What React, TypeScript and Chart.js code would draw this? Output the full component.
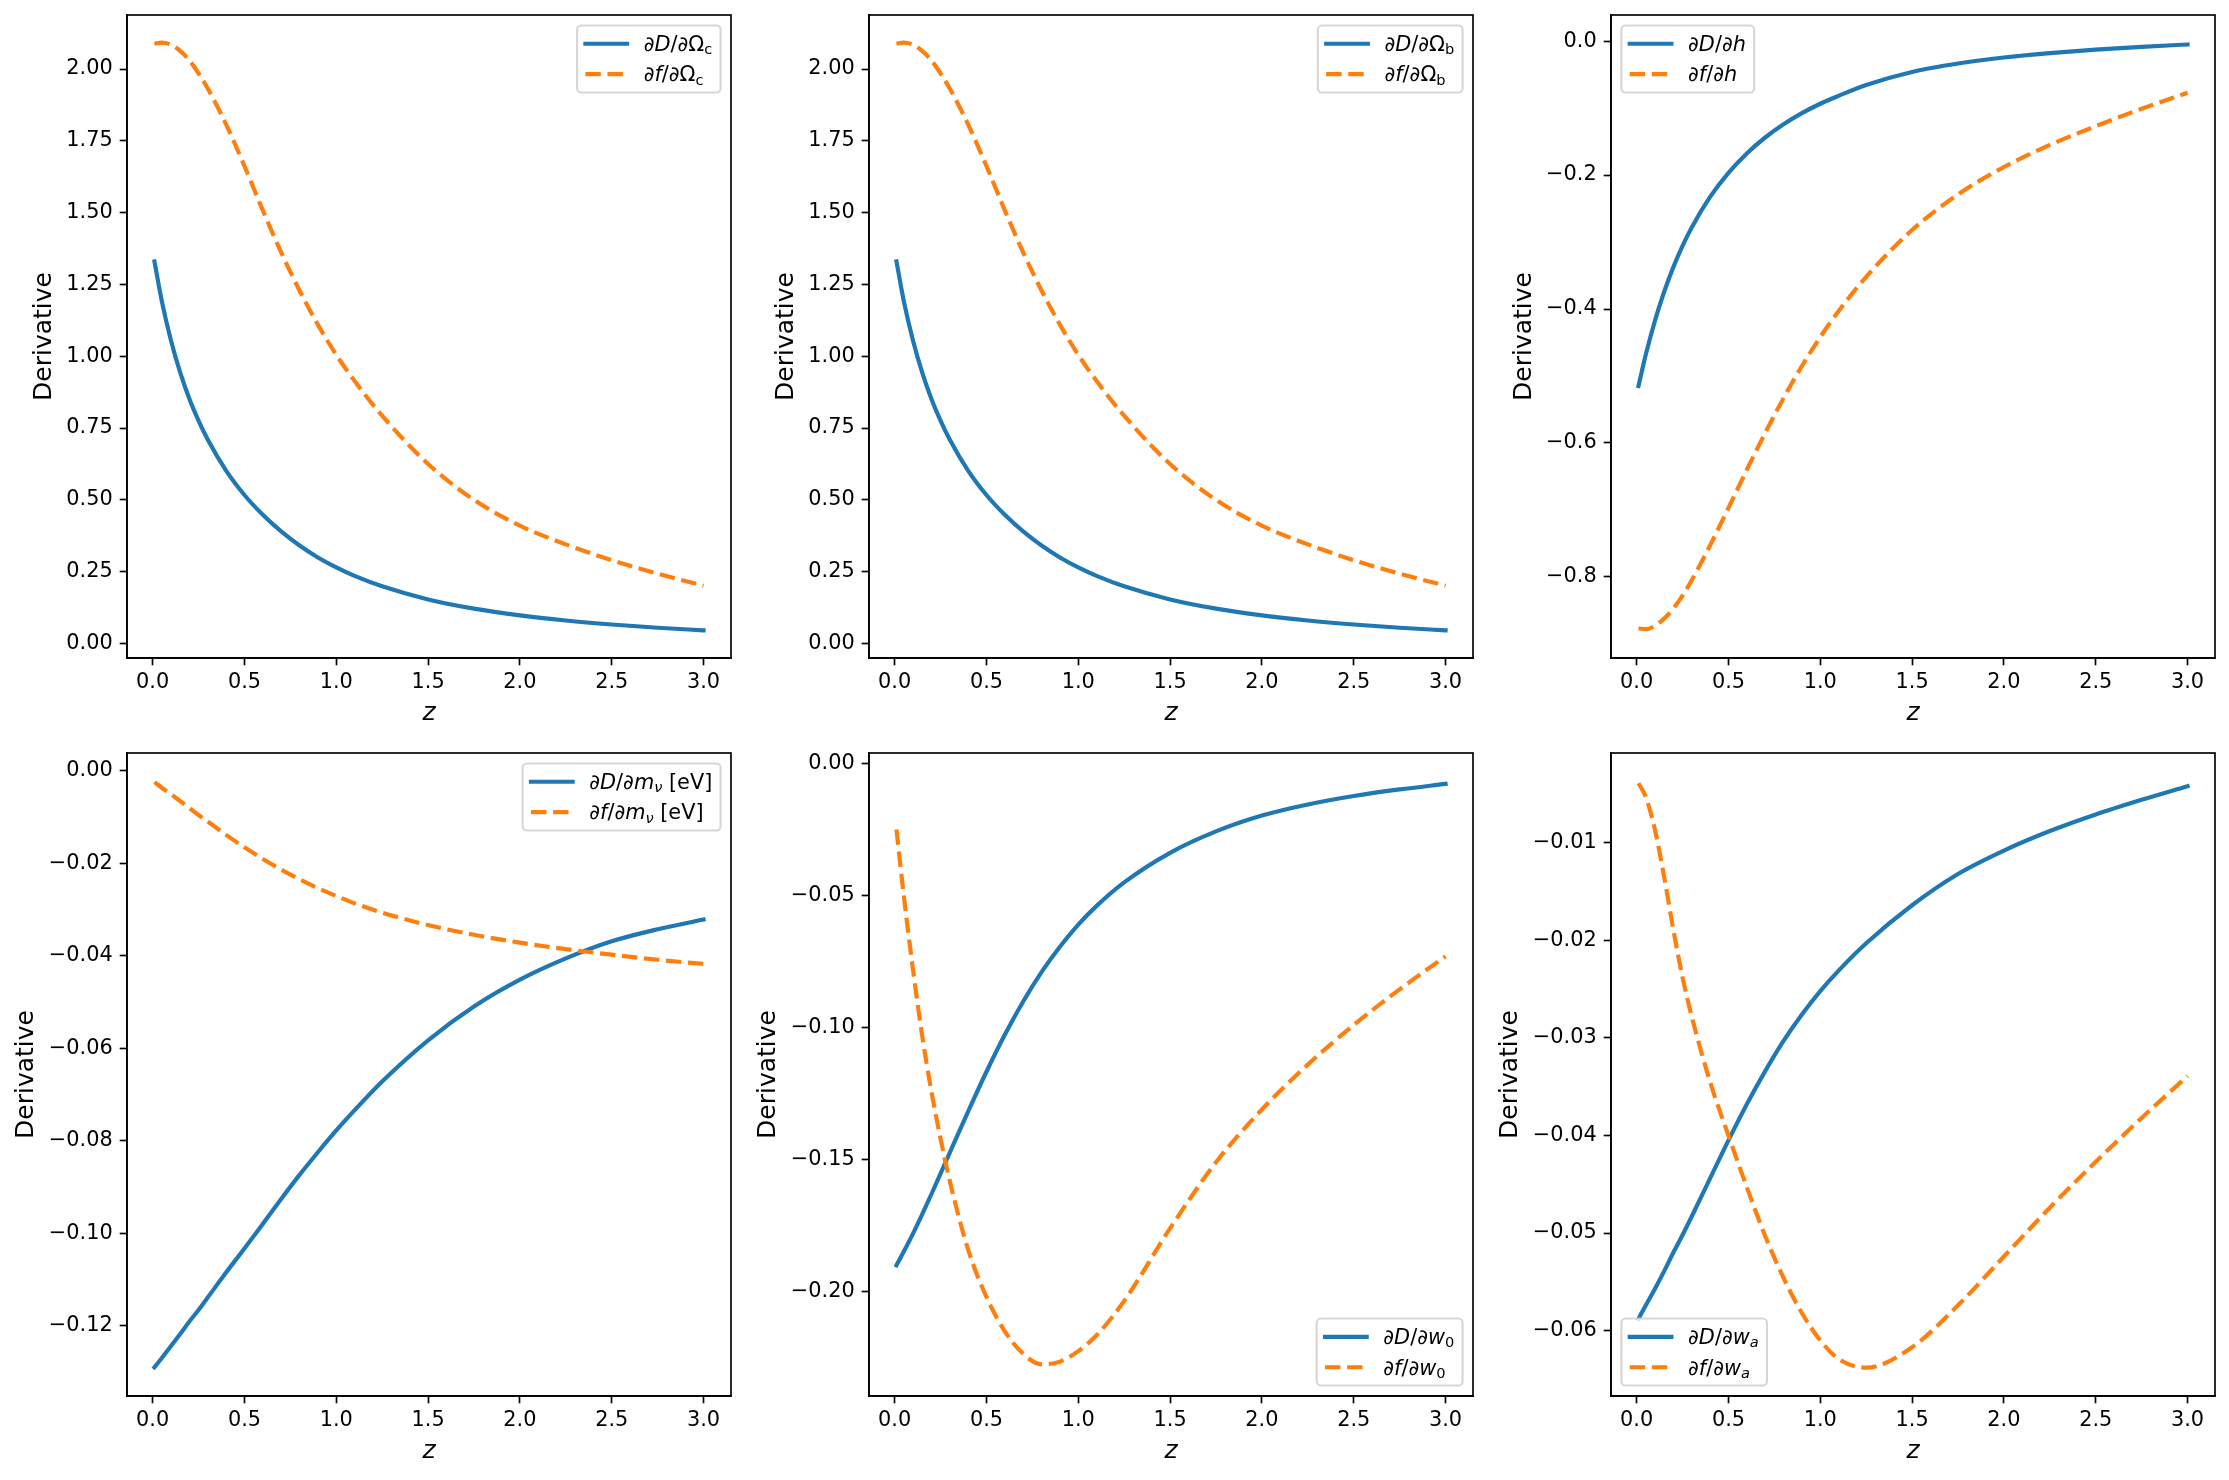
import React, { useEffect, useRef } from 'react';
import { Chart, registerables } from 'chart.js';

Chart.register(...registerables);

// ---- data -------------------------------------------------------------
const Z = [0.01, 0.05, 0.1, 0.15, 0.2, 0.25, 0.3, 0.4, 0.5, 0.6, 0.7, 0.8, 0.9, 1.0, 1.1, 1.25, 1.5, 1.75, 2.0, 2.25, 2.5, 2.75, 3.0];

const OMC_D = [1.33, 1.192, 1.055, 0.944, 0.852, 0.776, 0.71, 0.602, 0.517, 0.448, 0.39, 0.341, 0.2996, 0.265, 0.2355, 0.199, 0.1535, 0.1214, 0.0979, 0.08, 0.066, 0.0547, 0.0458];
const OMC_F = [2.088, 2.092, 2.0845, 2.063, 2.03, 1.985, 1.9325, 1.8075, 1.6625, 1.508, 1.3615, 1.229, 1.11, 1.005, 0.9135, 0.793, 0.625, 0.5, 0.41, 0.345, 0.29, 0.243, 0.201];

const OMB_D = [1.33, 1.192, 1.055, 0.944, 0.852, 0.776, 0.71, 0.602, 0.517, 0.448, 0.39, 0.341, 0.2996, 0.265, 0.2355, 0.199, 0.1535, 0.1214, 0.0979, 0.08, 0.066, 0.0547, 0.0458];
const OMB_F = [2.088, 2.092, 2.0845, 2.063, 2.03, 1.985, 1.9325, 1.8075, 1.6625, 1.508, 1.3615, 1.229, 1.11, 1.005, 0.9135, 0.793, 0.625, 0.5, 0.41, 0.345, 0.29, 0.243, 0.201];

const H_D = [-0.515, -0.468, -0.4172, -0.3742, -0.3374, -0.3056, -0.2781, -0.2326, -0.1966, -0.1676, -0.1439, -0.1241, -0.1075, -0.0935, -0.0817, -0.0655, -0.046, -0.0335, -0.0245, -0.018, -0.0128, -0.0085, -0.005];
const H_F = [-0.877, -0.878, -0.873, -0.862, -0.847, -0.828, -0.805, -0.753, -0.697, -0.64, -0.585, -0.533, -0.485, -0.442, -0.403, -0.352, -0.282, -0.229, -0.188, -0.155, -0.127, -0.101, -0.077];

const MNU_D = [-0.129, -0.127, -0.1244, -0.1218, -0.1191, -0.1166, -0.1139, -0.1085, -0.1033, -0.098, -0.0926, -0.0874, -0.0825, -0.0778, -0.0734, -0.0672, -0.0583, -0.051, -0.0452, -0.0406, -0.0369, -0.0343, -0.0322];
const MNU_F = [-0.0025, -0.0037, -0.0051, -0.0066, -0.0081, -0.0096, -0.011, -0.0139, -0.0166, -0.0191, -0.0214, -0.0235, -0.0254, -0.0271, -0.0287, -0.0307, -0.0334, -0.0355, -0.0372, -0.0386, -0.0398, -0.0409, -0.0418];

const W0_D = [-0.19, -0.1848, -0.178, -0.1707, -0.1631, -0.1553, -0.1474, -0.1318, -0.1167, -0.1027, -0.0901, -0.079, -0.0694, -0.061, -0.0539, -0.045, -0.0338, -0.0257, -0.0197, -0.0155, -0.0123, -0.0098, -0.0077];
const W0_F = [-0.025, -0.05, -0.078, -0.103, -0.124, -0.142, -0.158, -0.184, -0.202, -0.215, -0.2235, -0.2275, -0.2265, -0.2225, -0.2165, -0.2035, -0.176, -0.151, -0.131, -0.114, -0.099, -0.0855, -0.073];

const WA_D = [-0.0588, -0.0574, -0.0557, -0.0539, -0.052, -0.0502, -0.0483, -0.0444, -0.0405, -0.0368, -0.0334, -0.0303, -0.0276, -0.0252, -0.0231, -0.0203, -0.0164, -0.0132, -0.0108, -0.0088, -0.0071, -0.0056, -0.0042];
const WA_F = [-0.0039, -0.0053, -0.0087, -0.0135, -0.0189, -0.0238, -0.0278, -0.0345, -0.04, -0.0453, -0.0503, -0.0546, -0.0582, -0.061, -0.0629, -0.0638, -0.0617, -0.0574, -0.0524, -0.0474, -0.0427, -0.0382, -0.0339];

// ---- axes ticks & ranges ---------------------------------------------
const X_RANGE = [-0.1395, 3.1495];
const X_TICKS = [0, 0.5, 1, 1.5, 2, 2.5, 3];
const X_TICK_LABELS = ['0.0', '0.5', '1.0', '1.5', '2.0', '2.5', '3.0'];

const Y_TICKS_OM = [0, 0.25, 0.5, 0.75, 1.0, 1.25, 1.5, 1.75, 2.0];
const Y_LABELS_OM = ['0.00', '0.25', '0.50', '0.75', '1.00', '1.25', '1.50', '1.75', '2.00'];
const Y_RANGE_OM = [-0.0505, 2.188];

const Y_TICKS_H = [0, -0.2, -0.4, -0.6, -0.8];
const Y_LABELS_H = ['0.0', '\u22120.2', '\u22120.4', '\u22120.6', '\u22120.8'];
const Y_RANGE_H = [-0.921, 0.039];

const Y_TICKS_MNU = [0, -0.02, -0.04, -0.06, -0.08, -0.1, -0.12];
const Y_LABELS_MNU = ['0.00', '\u22120.02', '\u22120.04', '\u22120.06', '\u22120.08', '\u22120.10', '\u22120.12'];
const Y_RANGE_MNU = [-0.1352, 0.0038];

const Y_TICKS_W0 = [0, -0.05, -0.1, -0.15, -0.2];
const Y_LABELS_W0 = ['0.00', '\u22120.05', '\u22120.10', '\u22120.15', '\u22120.20'];
const Y_RANGE_W0 = [-0.2395, 0.004];

const Y_TICKS_WA = [-0.01, -0.02, -0.03, -0.04, -0.05, -0.06];
const Y_LABELS_WA = ['\u22120.01', '\u22120.02', '\u22120.03', '\u22120.04', '\u22120.05', '\u22120.06'];
const Y_RANGE_WA = [-0.0667, -0.0008];

// ---- legend labels (rich text segments) ------------------------------
type Seg = { t: string; it?: boolean; sub?: boolean };

const LEG_OMC: Seg[][] = [
  [{ t: '\u2202' }, { t: 'D', it: true }, { t: '/\u2202\u03A9' }, { t: 'c', sub: true }],
  [{ t: '\u2202' }, { t: 'f', it: true }, { t: '/\u2202\u03A9' }, { t: 'c', sub: true }],
];
const LEG_OMB: Seg[][] = [
  [{ t: '\u2202' }, { t: 'D', it: true }, { t: '/\u2202\u03A9' }, { t: 'b', sub: true }],
  [{ t: '\u2202' }, { t: 'f', it: true }, { t: '/\u2202\u03A9' }, { t: 'b', sub: true }],
];
const LEG_H: Seg[][] = [
  [{ t: '\u2202' }, { t: 'D', it: true }, { t: '/\u2202' }, { t: 'h', it: true }],
  [{ t: '\u2202' }, { t: 'f', it: true }, { t: '/\u2202' }, { t: 'h', it: true }],
];
const LEG_MNU: Seg[][] = [
  [{ t: '\u2202' }, { t: 'D', it: true }, { t: '/\u2202' }, { t: 'm', it: true }, { t: '\u03BD', it: true, sub: true }, { t: ' [eV]' }],
  [{ t: '\u2202' }, { t: 'f', it: true }, { t: '/\u2202' }, { t: 'm', it: true }, { t: '\u03BD', it: true, sub: true }, { t: ' [eV]' }],
];
const LEG_W0: Seg[][] = [
  [{ t: '\u2202' }, { t: 'D', it: true }, { t: '/\u2202' }, { t: 'w', it: true }, { t: '0', sub: true }],
  [{ t: '\u2202' }, { t: 'f', it: true }, { t: '/\u2202' }, { t: 'w', it: true }, { t: '0', sub: true }],
];
const LEG_WA: Seg[][] = [
  [{ t: '\u2202' }, { t: 'D', it: true }, { t: '/\u2202' }, { t: 'w', it: true }, { t: 'a', it: true, sub: true }],
  [{ t: '\u2202' }, { t: 'f', it: true }, { t: '/\u2202' }, { t: 'w', it: true }, { t: 'a', it: true, sub: true }],
];

// ---- style ------------------------------------------------------------
const BLUE = '#1f77b4';
const ORANGE = '#ff7f0e';
const FAMILY = "'DejaVu Sans', sans-serif";
const FS = 20.83; // tick & legend text
const LABEL_FS = 25; // axis titles
const LW = 4.17;
const DASH = [15.42, 6.67];
const SPINE_W = 1.67;

// grid geometry (plot areas)
const COL_LEFT = [127, 869, 1611];
const ROW_TOP = [15, 753];
const BOX_W = 604;
const BOX_H = 643;
const Y_AXIS_W = 120;
const X_AXIS_H = 80;
const PAD_TOP = 24;
const PAD_RIGHT = 16;

function segFont(s: Seg) {
  const size = s.sub ? FS * 0.7 : FS;
  return `${s.it ? 'italic ' : ''}${size}px ${FAMILY}`;
}

function measureSegs(ctx: CanvasRenderingContext2D, segs: Seg[]) {
  let w = 0;
  for (const s of segs) {
    ctx.font = segFont(s);
    w += ctx.measureText(s.t).width;
  }
  return w;
}

function drawSegs(ctx: CanvasRenderingContext2D, segs: Seg[], x: number, baseline: number) {
  ctx.fillStyle = '#000';
  ctx.textAlign = 'left';
  ctx.textBaseline = 'alphabetic';
  let cx = x;
  for (const s of segs) {
    ctx.font = segFont(s);
    ctx.fillText(s.t, cx, baseline + (s.sub ? FS * 0.16 : 0));
    cx += ctx.measureText(s.t).width;
  }
}

// frame on all four sides + boxed legend
const mplDecor = {
  id: 'mplDecor',
  afterDraw(chart: any, _args: any, opts: any) {
    const ctx: CanvasRenderingContext2D = chart.ctx;
    const a = chart.chartArea;
    ctx.save();
    ctx.strokeStyle = '#000';
    ctx.lineWidth = SPINE_W;
    ctx.setLineDash([]);
    ctx.strokeRect(a.left, a.top, a.right - a.left, a.bottom - a.top);

    const items: { segs: Seg[]; color: string; dash: number[] }[] = opts.items || [];
    const loc: string = opts.loc || 'ur';
    const pad = 0.4 * FS, hl = 2 * FS, htp = 0.8 * FS, ls = 0.5 * FS, bap = 0.5 * FS;
    const rowH = 20;
    let tw = 0;
    items.forEach((it) => { tw = Math.max(tw, measureSegs(ctx, it.segs)); });
    const w = pad + hl + htp + tw + pad;
    const h = 2 * pad + items.length * rowH + (items.length - 1) * ls;
    const x = loc[1] === 'r' ? a.right - bap - w : a.left + bap;
    const y = loc[0] === 'u' ? a.top + bap : a.bottom - bap - h;

    ctx.beginPath();
    (ctx as any).roundRect(x, y, w, h, 0.2 * FS);
    ctx.fillStyle = 'rgba(255,255,255,0.8)';
    ctx.fill();
    ctx.strokeStyle = 'rgba(204,204,204,0.8)';
    ctx.lineWidth = 2.08;
    ctx.stroke();

    items.forEach((it, k) => {
      const cy = y + pad + rowH / 2 + k * (rowH + ls);
      ctx.beginPath();
      ctx.setLineDash(it.dash);
      ctx.lineCap = it.dash.length ? 'butt' : 'square';
      ctx.lineWidth = LW;
      ctx.strokeStyle = it.color;
      ctx.moveTo(x + pad, cy);
      ctx.lineTo(x + pad + hl, cy);
      ctx.stroke();
      ctx.setLineDash([]);
      drawSegs(ctx, it.segs, x + pad + hl + htp, cy + 0.35 * FS);
    });
    ctx.restore();
  },
};

type PanelCfg = {
  d: number[];
  f: number[];
  dLabel: string;
  fLabel: string;
  legend: Seg[][];
  loc: string;
  yTicks: number[];
  yLabels: string[];
  yRange: number[];
  col: number;
  row: number;
  titleGap: number;
};

const PANELS: PanelCfg[] = [
  { d: OMC_D, f: OMC_F, dLabel: '\u2202D/\u2202\u03A9c', fLabel: '\u2202f/\u2202\u03A9c', legend: LEG_OMC, loc: 'ur', yTicks: Y_TICKS_OM, yLabels: Y_LABELS_OM, yRange: Y_RANGE_OM, col: 0, row: 0, titleGap: 83 },
  { d: OMB_D, f: OMB_F, dLabel: '\u2202D/\u2202\u03A9b', fLabel: '\u2202f/\u2202\u03A9b', legend: LEG_OMB, loc: 'ur', yTicks: Y_TICKS_OM, yLabels: Y_LABELS_OM, yRange: Y_RANGE_OM, col: 1, row: 0, titleGap: 83 },
  { d: H_D, f: H_F, dLabel: '\u2202D/\u2202h', fLabel: '\u2202f/\u2202h', legend: LEG_H, loc: 'ul', yTicks: Y_TICKS_H, yLabels: Y_LABELS_H, yRange: Y_RANGE_H, col: 2, row: 0, titleGap: 87 },
  { d: MNU_D, f: MNU_F, dLabel: '\u2202D/\u2202m\u03BD [eV]', fLabel: '\u2202f/\u2202m\u03BD [eV]', legend: LEG_MNU, loc: 'ur', yTicks: Y_TICKS_MNU, yLabels: Y_LABELS_MNU, yRange: Y_RANGE_MNU, col: 0, row: 1, titleGap: 101 },
  { d: W0_D, f: W0_F, dLabel: '\u2202D/\u2202w0', fLabel: '\u2202f/\u2202w0', legend: LEG_W0, loc: 'lr', yTicks: Y_TICKS_W0, yLabels: Y_LABELS_W0, yRange: Y_RANGE_W0, col: 1, row: 1, titleGap: 101 },
  { d: WA_D, f: WA_F, dLabel: '\u2202D/\u2202wa', fLabel: '\u2202f/\u2202wa', legend: LEG_WA, loc: 'll', yTicks: Y_TICKS_WA, yLabels: Y_LABELS_WA, yRange: Y_RANGE_WA, col: 2, row: 1, titleGap: 101 },
];

function Panel({ cfg }: { cfg: PanelCfg }) {
  const ref = useRef<HTMLCanvasElement | null>(null);
  const cw = Y_AXIS_W + BOX_W + PAD_RIGHT;
  const ch = PAD_TOP + BOX_H + X_AXIS_H;
  const left = COL_LEFT[cfg.col] - Y_AXIS_W;
  const top = ROW_TOP[cfg.row] - PAD_TOP;

  useEffect(() => {
    if (!ref.current) return;
    const tickFont = { family: FAMILY, size: FS };
    const gridOpts = {
      drawOnChartArea: false,
      drawTicks: true,
      tickLength: 7.3,
      tickWidth: SPINE_W,
      tickColor: '#000',
    };
    const chart = new Chart(ref.current, {
      type: 'line',
      data: {
        datasets: [
          {
            label: cfg.dLabel,
            data: Z.map((z, i) => ({ x: z, y: cfg.d[i] })),
            borderColor: BLUE,
            backgroundColor: BLUE,
            borderWidth: LW,
            pointRadius: 0,
            fill: false,
            cubicInterpolationMode: 'monotone',
            borderCapStyle: 'square',
            borderJoinStyle: 'round',
            order: 1,
          },
          {
            label: cfg.fLabel,
            data: Z.map((z, i) => ({ x: z, y: cfg.f[i] })),
            borderColor: ORANGE,
            backgroundColor: ORANGE,
            borderWidth: LW,
            borderDash: DASH,
            pointRadius: 0,
            fill: false,
            cubicInterpolationMode: 'monotone',
            borderCapStyle: 'butt',
            borderJoinStyle: 'round',
            order: 0,
          },
        ],
      },
      options: {
        animation: false,
        responsive: false,
        devicePixelRatio: 1,
        events: [],
        layout: { padding: { left: 0, top: PAD_TOP, right: PAD_RIGHT, bottom: 0 } },
        plugins: {
          legend: { display: false },
          tooltip: { enabled: false },
          mplDecor: {
            loc: cfg.loc,
            items: [
              { segs: cfg.legend[0], color: BLUE, dash: [] },
              { segs: cfg.legend[1], color: ORANGE, dash: DASH },
            ],
          },
        } as any,
        scales: {
          x: {
            type: 'linear',
            min: X_RANGE[0],
            max: X_RANGE[1],
            afterFit: (s: any) => { s.height = X_AXIS_H; },
            afterBuildTicks: (s: any) => { s.ticks = X_TICKS.map((v) => ({ value: v })); },
            ticks: {
              color: '#000',
              font: tickFont,
              padding: 5,
              autoSkip: false,
              maxRotation: 0,
              minRotation: 0,
              callback: (_v: any, i: number) => X_TICK_LABELS[i],
            },
            grid: gridOpts,
            border: { display: true, color: '#000', width: SPINE_W },
            title: {
              display: true,
              text: 'z',
              color: '#000',
              font: { family: FAMILY, size: LABEL_FS, style: 'italic' },
              padding: { top: 0, bottom: 9.5 },
            },
          },
          y: {
            type: 'linear',
            min: cfg.yRange[0],
            max: cfg.yRange[1],
            afterFit: (s: any) => { s.width = Y_AXIS_W; },
            afterBuildTicks: (s: any) => { s.ticks = cfg.yTicks.map((v) => ({ value: v })); },
            ticks: {
              color: '#000',
              font: tickFont,
              padding: 7,
              autoSkip: false,
              callback: (_v: any, i: number) => cfg.yLabels[i],
            },
            grid: gridOpts,
            border: { display: true, color: '#000', width: SPINE_W },
            title: {
              display: true,
              text: 'Derivative',
              color: '#000',
              font: { family: FAMILY, size: LABEL_FS },
              padding: { top: Y_AXIS_W - cfg.titleGap - 15, bottom: 0 },
            },
          },
        },
      } as any,
      plugins: [mplDecor],
    });
    return () => chart.destroy();
  }, [cfg]);

  return (
    <canvas
      ref={ref}
      width={cw}
      height={ch}
      style={{ position: 'absolute', left, top, width: cw, height: ch }}
    />
  );
}

export default function App() {
  return (
    <div
      style={{
        position: 'fixed',
        left: 0,
        top: 0,
        width: 2229,
        height: 1480,
        background: '#fff',
        overflow: 'hidden',
      }}
    >
      {PANELS.map((p, i) => (
        <Panel key={i} cfg={p} />
      ))}
    </div>
  );
}
